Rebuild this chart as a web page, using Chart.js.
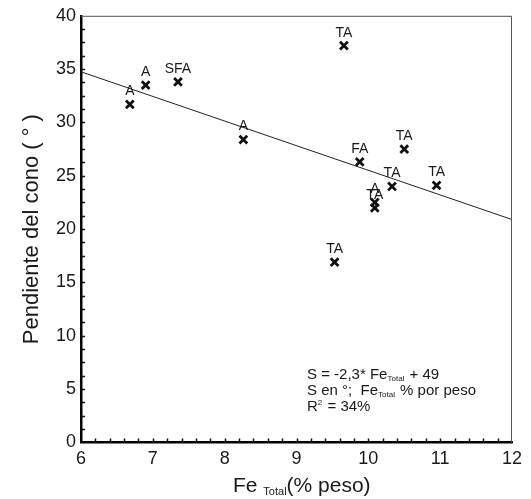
<!DOCTYPE html>
<html><head><meta charset="utf-8">
<script src="https://cdn.jsdelivr.net/npm/chart.js@4.4.1/dist/chart.umd.min.js"></script>
<style>html,body{margin:0;padding:0;background:#fff;}#wrap{width:531px;height:499px;}</style>
</head><body><div id="wrap"><canvas id="c" width="531" height="499"></canvas></div>
<script>
// ---- data ----
const feTotal = [6.68, 6.90, 7.35, 8.26, 9.66, 9.88, 10.50, 10.33, 10.95, 10.09, 10.09, 9.53];
const slopeDeg = [31.7, 33.5, 33.8, 28.4, 37.2, 26.3, 27.5, 24.0, 24.1, 22.5, 22.0, 16.9];
const pointLabels = ['A', 'A', 'SFA', 'A', 'TA', 'FA', 'TA', 'TA', 'TA', 'A', 'TA', 'TA'];
const fitX = [6, 12];
const fitY = [34.75, 20.9];
const xRange = [6, 12];
const yRange = [0, 40];
const xStep = 1, xMinor = 0.2;
const yStep = 5, yMinor = 1.25;

const FONT = "'Liberation Sans', Arial, sans-serif";
const INK = '#1a1a1a';

function drawRuns(ctx, x, y, runs) {
  let cx = x;
  for (const r of runs) {
    ctx.font = r.size + 'px ' + FONT;
    ctx.fillText(r.t, cx, y + (r.dy || 0));
    cx += ctx.measureText(r.t).width + (r.gap || 0);
  }
}

const decor = {
  id: 'decor',
  afterDatasetsDraw(chart) {
    const {ctx} = chart;
    const meta = chart.getDatasetMeta(0);
    ctx.save();
    ctx.fillStyle = INK;
    ctx.font = '14px ' + FONT;
    ctx.textAlign = 'center';
    ctx.textBaseline = 'middle';
    meta.data.forEach((el, i) => {
      ctx.fillText(pointLabels[i], el.x, el.y - 13);
    });
    ctx.restore();
  },
  afterDraw(chart) {
    const {ctx, chartArea: a, scales: {x, y}} = chart;
    ctx.save();
    // top & right frame
    ctx.strokeStyle = '#555';
    ctx.lineWidth = 1;
    ctx.beginPath();
    ctx.moveTo(a.left, a.top + 0.5);
    ctx.lineTo(a.right - 0.5, a.top + 0.5);
    ctx.lineTo(a.right - 0.5, a.bottom);
    ctx.stroke();
    // inward ticks
    ctx.strokeStyle = '#111';
    ctx.lineWidth = 1.5;
    ctx.beginPath();
    const nx = Math.round((xRange[1] - xRange[0]) / xMinor);
    for (let i = 1; i < nx; i++) {
      const px = Math.round(x.getPixelForValue(xRange[0] + i * xMinor)) + 0.5;
      ctx.moveTo(px, a.bottom);
      ctx.lineTo(px, a.bottom - 4);
    }
    const ny = Math.round((yRange[1] - yRange[0]) / yMinor);
    for (let i = 1; i < ny; i++) {
      const py = Math.round(y.getPixelForValue(yRange[0] + i * yMinor)) + 0.5;
      ctx.moveTo(a.left, py);
      ctx.lineTo(a.left + 4, py);
    }
    ctx.stroke();
    // annotation
    ctx.fillStyle = INK;
    ctx.textAlign = 'left';
    ctx.textBaseline = 'alphabetic';
    const ax = a.right - 205;
    drawRuns(ctx, ax, a.bottom - 64, [
      {t: 'S = -2,3* Fe', size: 15},
      {t: 'Total', size: 8, dy: 2, gap: 1},
      {t: ' + 49', size: 15}
    ]);
    drawRuns(ctx, ax, a.bottom - 48, [
      {t: 'S en \u00b0;  Fe', size: 15},
      {t: 'Total', size: 8, dy: 2, gap: 1},
      {t: ' % por peso', size: 15}
    ]);
    drawRuns(ctx, ax, a.bottom - 32, [
      {t: 'R', size: 15},
      {t: '2', size: 8, dy: -6, gap: 1},
      {t: ' = 34%', size: 15}
    ]);
    // x axis title with subscript
    drawRuns(ctx, 233, 492, [
      {t: 'Fe ', size: 21},
      {t: 'Total', size: 11, dy: 3},
      {t: '(% peso)', size: 21}
    ]);
    ctx.restore();
  }
};

new Chart(document.getElementById('c'), {
  type: 'scatter',
  data: {
    datasets: [
      {
        data: feTotal.map((v, i) => ({x: v, y: slopeDeg[i]})),
        pointStyle: 'crossRot',
        pointRadius: 5.5,
        borderWidth: 2.8,
        borderColor: '#111',
        backgroundColor: '#111',
        order: 1
      },
      {
        type: 'line',
        data: fitX.map((v, i) => ({x: v, y: fitY[i]})),
        borderColor: '#222',
        borderWidth: 1,
        pointRadius: 0,
        fill: false,
        tension: 0,
        order: 2
      }
    ]
  },
  options: {
    responsive: false,
    devicePixelRatio: 1,
    animation: false,
    layout: {padding: {top: 12, right: 19, left: 0, bottom: 0}},
    plugins: {legend: {display: false}, tooltip: {enabled: false}},
    scales: {
      x: {
        type: 'linear',
        min: xRange[0], max: xRange[1],
        grid: {display: false, drawTicks: false},
        border: {display: true, color: '#000', width: 2.5},
        ticks: {stepSize: xStep, color: INK, font: {family: FONT, size: 18}, padding: 6, maxRotation: 0},
        afterFit(s) { s.height = 56.5; }
      },
      y: {
        type: 'linear',
        min: yRange[0], max: yRange[1],
        grid: {display: false, drawTicks: false},
        border: {display: true, color: '#000', width: 2.5},
        ticks: {stepSize: yStep, color: INK, font: {family: FONT, size: 18}, padding: 5},
        title: {display: true, text: 'Pendiente del cono ( \u00b0 )', color: INK, font: {family: FONT, size: 22}, padding: {top: 19}},
        afterFit(s) { s.width = 81; }
      }
    }
  },
  plugins: [decor]
});
</script>
</body></html>
